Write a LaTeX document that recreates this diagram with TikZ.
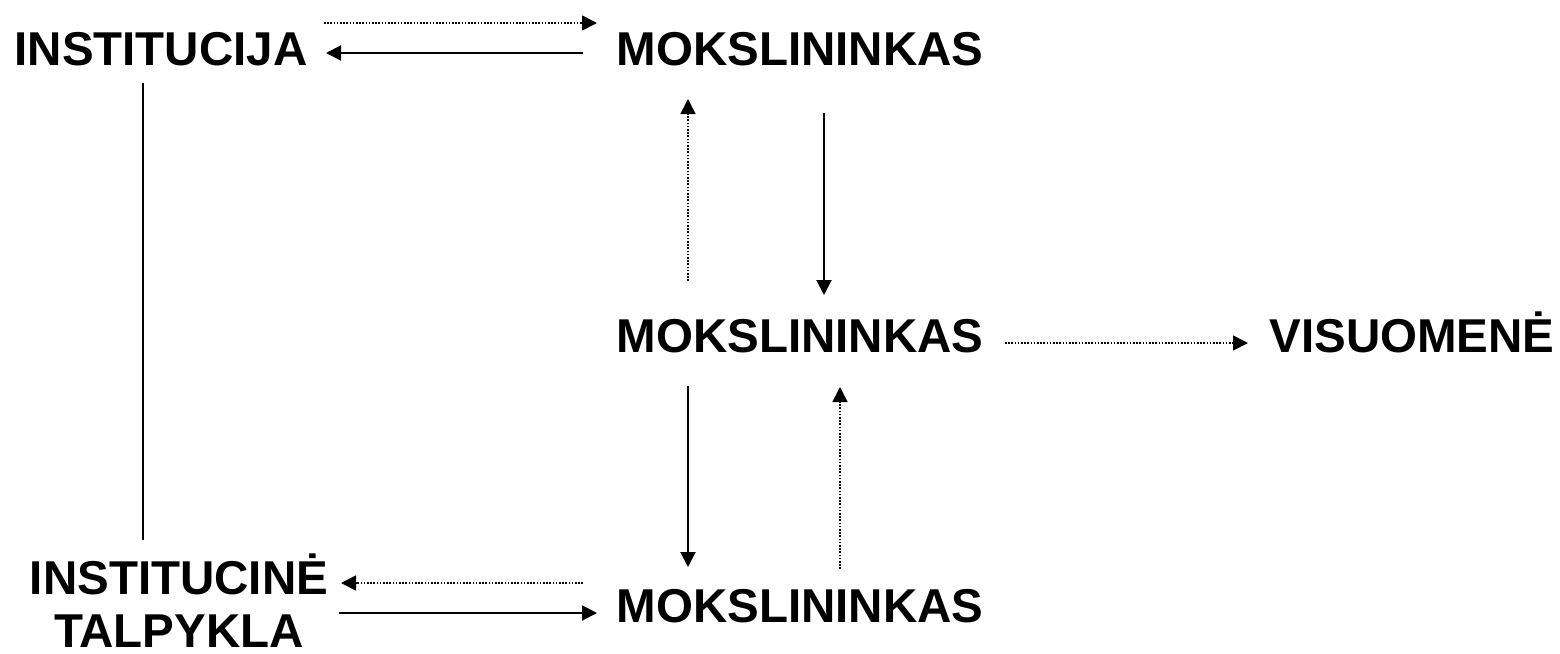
\documentclass[tikz,border=0pt]{standalone}
\usepackage{fontspec}
\setmainfont{Liberation Sans}
\usetikzlibrary{arrows.meta,calc}
\begin{document}
\begin{tikzpicture}[x=0.5pt,y=-0.5pt,
  lbl/.style={font=\bfseries\fontsize{23.75}{26.5}\selectfont, inner sep=0pt, outer sep=0pt, anchor=base},
  solidarr/.style={line width=1pt,-{Triangle[length=7.5pt,width=7.5pt]}},
  dotarr/.style={line width=0.85pt, dash pattern=on 0.8pt off 0.8pt, -{Triangle[length=7.5pt,width=7.5pt]}},
  plainline/.style={line width=0.7pt}]
\useasboundingbox (0,0) rectangle (1560,654);
\node[lbl] (inst) at (161,65) {INSTITUCIJA};
\node[lbl] (m1) at (800,65) {MOKSLININKAS};
\node[lbl] (m2) at (800,352) {MOKSLININKAS};
\node[lbl] (vis) at (1412,352) {VISUOMENĖ};
\node[lbl] (m3) at (800,622) {MOKSLININKAS};
\node[lbl, align=center] (ir) at (179,647) {INSTITUCINĖ\\TALPYKLA};
% top pair
\draw[dotarr] ($(inst.base)+(163,-42)$) -- ($(m1.base)+(-203,-42)$);
\draw[solidarr] ($(m1.base)+(-217,-12)$) -- ($(inst.base)+(165,-12)$);
% vertical line
\draw[plainline] ($(inst.base)+(-18,18)$) -- ($(ir.base)+(-36,-107)$);
% m1 <-> m2
\draw[solidarr] ($(m1.base)+(24,48)$) -- ($(m2.base)+(24,-57)$);
\draw[dotarr] ($(m2.base)+(-112,-71)$) -- ($(m1.base)+(-112,34)$);
% m2 -> vis
\draw[dotarr] ($(m2.base)+(205,-9)$) -- ($(vis.base)+(-164,-9)$);
% m2 <-> m3
\draw[solidarr] ($(m2.base)+(-112,34)$) -- ($(m3.base)+(-112,-55)$);
\draw[dotarr] ($(m3.base)+(40,-53)$) -- ($(m2.base)+(40,35)$);
% m3 <-> ir
\draw[dotarr] ($(m3.base)+(-217,-39)$) -- ($(ir.base)+(162,-64)$);
\draw[solidarr] ($(ir.base)+(160,-34)$) -- ($(m3.base)+(-203,-9)$);
\end{tikzpicture}
\end{document}
